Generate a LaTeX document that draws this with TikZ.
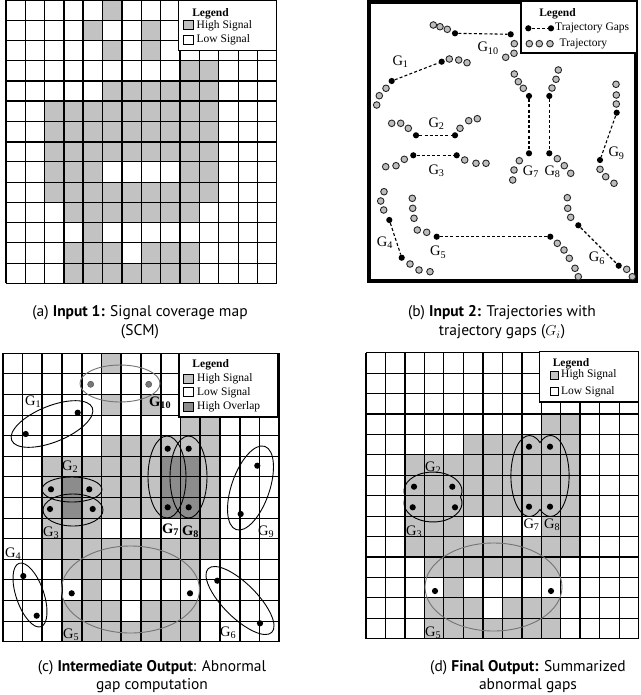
\documentclass[tikz,border=0pt]{standalone}
\usepackage{fontspec}
\setmainfont{Liberation Serif}
\newfontfamily\capfont{PT Sans}
\definecolor{hsig}{gray}{0.76}
\definecolor{hovl}{gray}{0.55}
\definecolor{trajfill}{gray}{0.74}
\newcommand\Gl[1]{G\textsubscript{#1}}
\def\rowsA{0/{5},1/{4,7},2/{5,7},3/{9,10},4/{5,...,10},5/{2,...,10},6/{2,...,10},7/{2,...,10},8/{2,3,4,9,10},9/{2,...,10},10/{3,...,9},11/{4},12/{3,4,5,7,8,9},13/{3,...,9}}
\def\rowsC{0/{5},2/{5,7},3/{9,10},4/{5,...,10},5/{2,...,10},6/{2,...,10},7/{2,...,10},8/{2,3,4,9,10},9/{2,...,10},10/{3,...,9},11/{4},12/{3,4,5,7,8,9},13/{3,...,9}}
\def\rowsD{3/{9,10},4/{5,...,10},5/{2,...,10},6/{2,...,10},7/{2,...,10},8/{2,3,4,9,10},9/{2,...,10},10/{3,...,9},11/{4},12/{3,4,5,7,8,9},13/{3,...,9}}
\tikzset{
  gridln/.style={draw=black,line width=1.1pt},
  gridvert/.style={draw=black,line width=1.8pt},
  gapdot/.style={circle,fill=black,inner sep=0pt,minimum size=6.2pt},
  graydot/.style={circle,fill=hovl!85!black,draw=black!70,line width=0.4pt,inner sep=0pt,minimum size=6.2pt},
  trajpt/.style={circle,draw=black!85,fill=trajfill,line width=0.9pt,inner sep=0pt,minimum size=6.6pt},
  glabel/.style={font=\fontsize{14.5}{14.5}\selectfont,inner sep=0pt,anchor=west},
  legtext/.style={font=\fontsize{11.5}{12}\selectfont,anchor=west,inner sep=0pt},
  legtitle/.style={font=\fontsize{11.5}{12}\selectfont\bfseries,inner sep=0pt},
  legbox/.style={draw=black,line width=1.3pt,fill=white,inner sep=0pt},
  swatch/.style={draw=black,line width=0.7pt,minimum width=9.5pt,minimum height=9pt,inner sep=0pt},
  smallswatch/.style={draw=black,line width=0.7pt,minimum width=7.5pt,minimum height=8pt,inner sep=0pt},
  captxt/.style={font=\capfont\fontsize{15.5}{19}\selectfont,align=center,inner sep=0pt},
  gapline/.style={line width=1.1pt,dash pattern=on 3pt off 2.2pt},
  ring/.style={draw=black,line width=0.9pt},
  grayring/.style={draw=black!55,line width=0.9pt},
}
\begin{document}
\begin{tikzpicture}[x=1pt,y=-1pt]
\useasboundingbox (0,0) rectangle (640,695);
\fill[white] (0,0) rectangle (640,695);

% ================= (a) signal coverage map
\begin{scope}[xshift=6pt,yshift=0pt,x=19.34pt,y=-20.24pt]
  \foreach \r/\cols in \rowsA {\foreach \c in \cols {\fill[hsig] (\c,\r) rectangle ++(1,1);}}
  \foreach \i in {0,...,14} {\draw[gridln] (\i,0) -- (\i,14); \draw[gridln] (0,\i) -- (14,\i);}
  \foreach \i in {3,4,9} {\draw[gridvert] (\i,0) -- (\i,14);}
  \foreach \i in {5,7} {\draw[gridvert] (0,\i) -- (14,\i);}
\end{scope}
\node[legbox,minimum width=98.5pt,minimum height=49.5pt] (lega) at (227.5,25.5) {};
\node[legtitle] (legat) at (210.5,13.3) {Legend};
\node[swatch,fill=hsig] (lasw1) at (188.3,25.3) {};
\node[legtext] (lat1) at (196.5,25.3) {High Signal};
\node[swatch,fill=white] (lasw2) at (188.3,40) {};
\node[legtext] (lat2) at (196.5,40) {Low Signal};

% ================= (b) trajectories
\node[draw,line width=3.5pt,minimum width=267pt,minimum height=279.4pt,inner sep=0pt] (frameb) at (502.6,141.5) {};
\node[draw,line width=1.4pt,fill=white,minimum width=115.2pt,minimum height=51.2pt,inner sep=0pt] (legb) at (578.6,27.4) {};
\node[legtitle] (legbt) at (557.5,14) {Legend};
\node[gapdot] (lgb1) at (528.3,28.3) {};
\node[gapdot] (lgb2) at (551,28.3) {};
\draw[gapline] (lgb1) -- (lgb2);
\node[legtext] (lgbt1) at (555,28.3) {Trajectory Gaps};
\node[trajpt] (ltb1) at (529.3,43.7) {};
\node[trajpt] (ltb2) at (539.3,43.7) {};
\node[trajpt] (ltb3) at (550,43.7) {};
\node[legtext] (lgbt2) at (559.5,43.7) {Trajectory};

\foreach \k/\px/\py in {
  1/433.3/25, 2/440/26.7, 3/447.3/29.3, 4/514.3/43.7, 5/514/53.3, 6/505.7/57.3,
  7/376.7/105, 8/379.3/95.7, 9/386/88.3, 10/449.3/59, 11/458.7/60, 12/467/62.7,
  13/391.7/123.3, 14/400.7/123.3, 15/408.3/128.3, 16/460/128.3, 17/468.7/120.7, 18/477.3/118.7,
  19/385.7/166.7, 20/396/165.7, 21/404.3/159.3, 22/464.7/160, 23/476/163.3, 24/486/163.3,
  25/514.3/74, 26/518.3/81.7, 27/523.3/88.3, 28/519.3/160.7, 29/514/170, 30/512.7/180,
  31/558.3/70, 32/556/79.3, 33/552/88, 34/557.3/158.7, 35/564.3/165.7, 36/570.7/173.3,
  37/616/84.3, 38/616.3/95, 39/616.3/104, 40/600/169.3, 41/605.7/176.7, 42/614/183.3,
  43/384/191.7, 44/380.7/201, 45/383.7/210, 46/410/264, 47/419/270, 48/430/271.7,
  49/412.3/198.3, 50/412.7/208.3, 51/414/218.3, 52/417.3/230, 53/426.7/232.3,
  54/557.3/243.3, 55/564/250, 56/569.3/258.3, 57/575/268.3, 58/578.3/276.7,
  59/567.3/197.7, 60/567.7/208.3, 61/570.7/217.3, 62/626.7/269.3, 63/632.3/276.7}
  {\node[trajpt] (tp\k) at (\px,\py) {};}

\foreach \n/\ax/\ay/\bx/\by in {
  10/455/33.3/510.7/34.3, 1/391.7/81/441.7/61.7, 2/416/135.3/455/135.3,
  3/413.3/155.3/456.7/155.3, 7/529/96/529/153.3, 8/549.3/96/549.3/153.3,
  9/616.7/112.7/600/160, 4/389.3/220/401.7/257.7, 5/436.7/236.7/550.3/236.7,
  6/578.3/225.3/618.7/265.7}
  {\node[gapdot] (g\n a) at (\ax,\ay) {};
   \node[gapdot] (g\n b) at (\bx,\by) {};
   \draw[gapline] (g\n a) -- (g\n b);}

\node[glabel] (lb10) at (477.3,48.3) {\Gl{10}};
\node[glabel] (lb1) at (392.3,61.7) {\Gl{1}};
\node[glabel] (lb2) at (428.3,123.3) {\Gl{2}};
\node[glabel] (lb3) at (428.3,170.7) {\Gl{3}};
\node[glabel] (lb7) at (522.7,171.7) {\Gl{7}};
\node[glabel] (lb8) at (544.3,171.7) {\Gl{8}};
\node[glabel] (lb9) at (608.3,153.3) {\Gl{9}};
\node[glabel] (lb4) at (376.7,242.3) {\Gl{4}};
\node[glabel] (lb5) at (430,252.3) {\Gl{5}};
\node[glabel] (lb6) at (588.7,258.3) {\Gl{6}};

% ================= (c) intermediate output
\begin{scope}[xshift=2.7pt,yshift=-353.3pt,x=19.76pt,y=-20.6pt]
  \foreach \r/\cols in \rowsC {\foreach \c in \cols {\fill[hsig] (\c,\r) rectangle ++(1,1);}}
  \foreach \c/\r in {3/6,3/7,8/5,9/5,8/6,9/6,8/7,9/7} {\fill[hovl] (\c,\r) rectangle ++(1,1);}
  \foreach \i in {0,...,14} {\draw[gridvert] (\i,0) -- (\i,14); \draw[gridln] (0,\i) -- (14,\i);}
\end{scope}
\node[legbox,minimum width=98.5pt,minimum height=63.5pt] (legc) at (228.3,385.3) {};
\node[legtitle] (legct) at (210.7,365) {Legend};
\node[swatch,fill=hsig] (lcsw1) at (188.3,378.7) {};
\node[legtext] (lct1) at (197,378.7) {High Signal};
\node[swatch,fill=white] (lcsw2) at (188.3,392.3) {};
\node[legtext] (lct2) at (197,392.3) {Low Signal};
\node[swatch,fill=hovl] (lcsw3) at (188.3,406.7) {};
\node[legtext] (lct3) at (197,406.7) {High Overlap};

\draw[grayring] (120,383.5) ellipse [x radius=40, y radius=18.5];
\draw[ring, rotate around={22:(52,424)}] (52,424) ellipse [x radius=43.5, y radius=18];
\draw[ring] (72,489.5) ellipse [x radius=30, y radius=12.5];
\draw[ring] (73,510) ellipse [x radius=30, y radius=16];
\draw[ring] (167,477) ellipse [x radius=19, y radius=41];
\draw[ring] (188.5,477) ellipse [x radius=18.5, y radius=41];
\draw[ring, rotate around={71:(250.5,488)}] (250.5,488) ellipse [x radius=44, y radius=19];
\draw[ring, rotate around={-71:(30,595)}] (30,595) ellipse [x radius=33.5, y radius=13.8];
\draw[grayring] (130.5,589.5) ellipse [x radius=69, y radius=43.5];
\draw[ring, rotate around={-45:(240,600.5)}] (240,600.5) ellipse [x radius=45, y radius=17];

\node[graydot] (c10a) at (90.7,384.3) {};
\node[graydot] (c10b) at (148.7,384.3) {};
\foreach \n/\ax/\ay/\bx/\by in {
  1/25.7/434/77.7/412.7, 2/51/489.3/89.3/489.3, 3/50/509/92.7/509,
  7/167.7/448.7/167.7/507.3, 8/188.7/448.7/188.7/507.3, 9/257.3/465.7/240.7/514,
  4/23.3/576/36.7/615.7, 5/71.7/593.3/190/593.3, 6/217.3/580.7/260/623.3}
  {\node[gapdot] (c\n a) at (\ax,\ay) {};
   \node[gapdot] (c\n b) at (\bx,\by) {};}

\node[glabel] (lc10) at (149,402.7) {\textbf{\Gl{10}}};
\node[glabel] (lc1) at (25,401.7) {\Gl{1}};
\node[glabel] (lc2) at (62,467) {\Gl{2}};
\node[glabel] (lc3) at (43,532.7) {\Gl{3}};
\node[glabel] (lc7) at (162,530) {\textbf{\Gl{7}}};
\node[glabel] (lc8) at (182,531.7) {\textbf{\Gl{8}}};
\node[glabel] (lc9) at (258,531.7) {\Gl{9}};
\node[glabel] (lc4) at (5,553.3) {\Gl{4}};
\node[glabel] (lc5) at (63,635) {\Gl{5}};
\node[glabel] (lc6) at (220,632.7) {\Gl{6}};

% ================= (d) final output
\begin{scope}[xshift=366pt,yshift=-352.7pt,x=19.48pt,y=-20.43pt]
  \foreach \r/\cols in \rowsD {\foreach \c in \cols {\fill[hsig] (\c,\r) rectangle ++(1,1);}}
  \foreach \i in {0,...,14} {\draw[gridln] (\i,0) -- (\i,14); \draw[gridln] (0,\i) -- (14,\i);}
  \foreach \i in {3,6,8,11} {\draw[gridvert] (\i,0) -- (\i,14);}
\end{scope}
\node[legbox,minimum width=99.4pt,minimum height=50.5pt] (legd) at (589,376.8) {};
\node[legtitle] (legdt) at (571,364) {Legend};
\node[smallswatch,fill=hsig] (ldsw1) at (554.5,375) {};
\node[legtext] (ldt1) at (561,375) {High Signal};
\node[smallswatch,fill=white] (ldsw2) at (554.5,391.5) {};
\node[legtext] (ldt2) at (561,391.5) {Low Signal};

\draw[ring] (405.48,497) arc[start angle=161.6, end angle=378.4, x radius=29, y radius=19]
            arc[start angle=-18.4, end angle=198.4, x radius=29, y radius=19] -- cycle;
\draw[ring] (540,442.6) arc[start angle=-55.6, end angle=-304.4, x radius=18.6, y radius=40.5]
            arc[start angle=124.4, end angle=-124.4, x radius=18.6, y radius=40.5] -- cycle;
\draw[grayring] (493.5,587) ellipse [x radius=68.5, y radius=44];

\foreach \k/\px/\py in {1/414/486.7, 2/452.3/486.7, 3/412.7/507.3, 4/455/507.3,
  5/529/446.7, 6/550/446.7, 7/529/506.7, 8/550/506.7, 9/435/591, 10/551/591}
  {\node[gapdot] (d\k) at (\px,\py) {};}

\node[glabel] (ld2) at (425,467.3) {\Gl{2}};
\node[glabel] (ld3) at (406,531.7) {\Gl{3}};
\node[glabel] (ld7) at (523.3,525) {\Gl{7}};
\node[glabel] (ld8) at (544,525) {\Gl{8}};
\node[glabel] (ld5) at (425,632.7) {\Gl{5}};

% ================= captions
\node[captxt] (capa) at (140,322.5) {(a) \textbf{Input 1:} Signal coverage map\\(SCM)};
\node[captxt] (capb) at (502,322.5) {(b) \textbf{Input 2:} Trajectories with\\trajectory gaps ($G_i$)};
\node[captxt,font=\capfont\fontsize{15.5}{18}\selectfont] (capc) at (152,677) {(c) \textbf{Intermediate Output}: Abnormal\\gap computation};
\node[captxt,font=\capfont\fontsize{15.5}{18}\selectfont] (capd) at (528,677) {(d) \textbf{Final Output:} Summarized\\abnormal gaps};
\end{tikzpicture}
\end{document}
